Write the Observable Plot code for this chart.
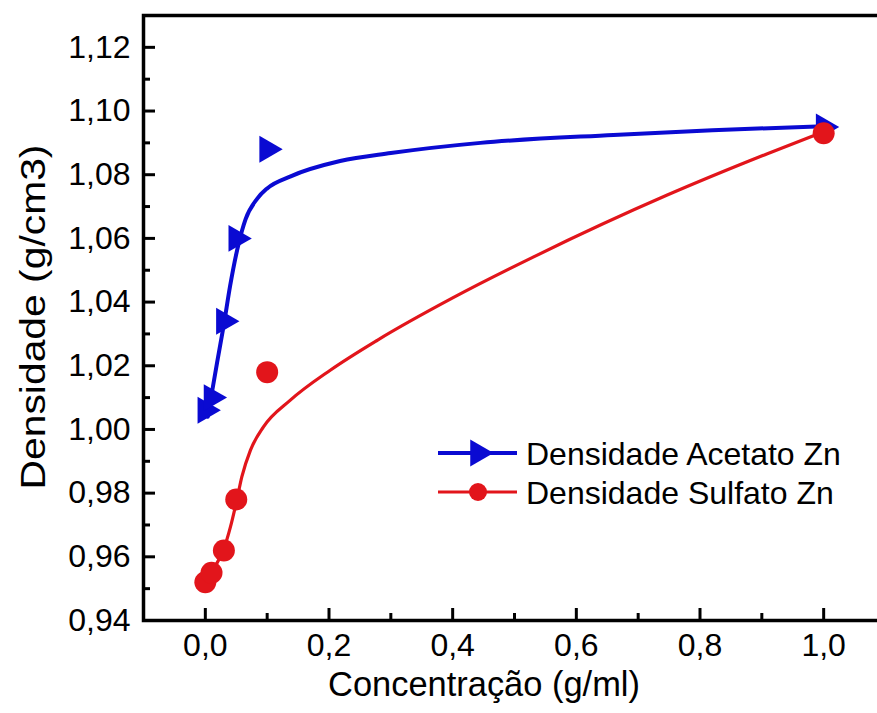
<!DOCTYPE html>
<html>
<head>
<meta charset="utf-8">
<script src="https://cdn.jsdelivr.net/npm/d3@7"></script>
<script src="https://cdn.jsdelivr.net/npm/@observablehq/plot@0.6"></script>
<style>
  html, body { margin: 0; padding: 0; background: #fff; overflow: hidden; }
  #chart { width: 877px; height: 713px; overflow: hidden; }
  #chart svg { max-width: none !important; }
</style>
</head>
<body>
<div id="chart"></div>
<script>
// ---- data ----
const concentracao = [0, 0.01, 0.03, 0.05, 0.1, 1.0];
const densAcetato  = [1.006, 1.010, 1.034, 1.060, 1.088, 1.095];
const densSulfato  = [0.952, 0.955, 0.962, 0.978, 1.018, 1.093];

// fitted curves
const fitAcetatoX = [0.004, 0.011, 0.019, 0.030, 0.040, 0.054, 0.065, 0.084, 0.100, 0.138, 0.218, 0.300, 0.445, 0.660, 0.820, 1.000];
const fitAcetatoY = [1.004, 1.012, 1.021, 1.033, 1.045, 1.0585, 1.066, 1.0725, 1.0757, 1.0795, 1.0843, 1.0868, 1.0900, 1.0925, 1.0940, 1.0952];
const fitSulfatoX = [0.003, 0.010, 0.030, 0.0405, 0.050, 0.059, 0.073, 0.094, 0.1375, 0.202, 0.278, 0.400, 0.531, 0.747, 0.909, 1.000];
const fitSulfatoY = [0.952, 0.955, 0.9625, 0.9693, 0.977, 0.9851, 0.9935, 1.0008, 1.0092, 1.0186, 1.028, 1.0413, 1.0542, 1.0736, 1.0866, 1.0935];

const xMajor = [0, 0.2, 0.4, 0.6, 0.8, 1.0];
const xMinor = [0.1, 0.3, 0.5, 0.7, 0.9];
const yMajor = [0.96, 0.98, 1.00, 1.02, 1.04, 1.06, 1.08, 1.10, 1.12];
const yMinor = [0.95, 0.97, 0.99, 1.01, 1.03, 1.05, 1.07, 1.09, 1.11];
const yLabels = [0.94, 0.96, 0.98, 1.00, 1.02, 1.04, 1.06, 1.08, 1.10, 1.12];

const seriesNames = ["Densidade Acetato Zn", "Densidade Sulfato Zn"];
const xTitle = "Concentração (g/ml)";
const yTitle = "Densidade (g/cm3)";

const blue = "#0a0ad2";
const red = "#e2151b";
const font = "'Liberation Sans', Arial, sans-serif";

const pts = (xs, ys) => xs.map((x, i) => ({x, y: ys[i]}));
const acetatoPts = pts(concentracao, densAcetato);
const sulfatoPts = pts(concentracao, densSulfato);
const acetatoFit = pts(fitAcetatoX, fitAcetatoY);
const sulfatoFit = pts(fitSulfatoX, fitSulfatoY);

const W = 900, H = 713;
const mL = 143, mR = 15, mT = 15, mB = 93;
const plotW = W - mL - mR, plotH = H - mT - mB;
const comma = (d, n) => d.toFixed(n).replace(".", ",");

const chart = Plot.plot({
  width: W, height: H,
  marginLeft: mL, marginRight: mR, marginTop: mT, marginBottom: mB,
  style: {fontFamily: font, background: "#fff", color: "#000", maxWidth: "none"},
  x: {domain: [-0.1, 1.1], axis: null},
  y: {domain: [0.94, 1.13], axis: null},
  marks: [
    // inward ticks
    Plot.ruleX(xMajor, {x: d => d, insetTop: plotH - 12, stroke: "#000", strokeWidth: 3}),
    Plot.ruleX(xMinor, {x: d => d, insetTop: plotH - 7, stroke: "#000", strokeWidth: 3}),
    Plot.ruleY(yMajor, {y: d => d, insetRight: plotW - 12, stroke: "#000", strokeWidth: 3}),
    Plot.ruleY(yMinor, {y: d => d, insetRight: plotW - 7, stroke: "#000", strokeWidth: 3}),
    // tick labels
    Plot.text(xMajor, {x: d => d, frameAnchor: "bottom", dy: 35, text: d => comma(d, 1), fontSize: 32, fill: "#000"}),
    Plot.text(yLabels, {y: d => d, frameAnchor: "left", dx: -13, textAnchor: "end", text: d => comma(d, 2), fontSize: 32, fill: "#000"}),
    // fitted curves
    Plot.line(acetatoFit, {x: "x", y: "y", stroke: blue, strokeWidth: 4, curve: "monotone-x"}),
    Plot.line(sulfatoFit, {x: "x", y: "y", stroke: red, strokeWidth: 3.2, curve: "monotone-x"}),
    // data points
    Plot.dot(acetatoPts, {x: "x", y: "y", symbol: "triangle", rotate: 90, r: 10, fill: blue, stroke: "none"}),
    Plot.dot(sulfatoPts, {x: "x", y: "y", symbol: "circle", r: 11, fill: red, stroke: "none"}),
    Plot.frame({stroke: "#000", strokeWidth: 3.5})
  ]
});
chart.style.maxWidth = "none";
document.getElementById("chart").appendChild(chart);

const svg = d3.select(chart);

// axis titles (condensed like the original)
function title(txt, cx, cy, rot, target) {
  const g = svg.append("g").attr("transform", `translate(${cx},${cy}) rotate(${rot})`);
  const t = g.append("text").attr("text-anchor", "middle").attr("dy", "0.36em")
    .attr("font-family", font).attr("font-size", 35).attr("fill", "#000").text(txt);
  const natural = t.node().getComputedTextLength();
  t.attr("transform", `scale(${target / natural},1)`);
}
title(xTitle, 484, 683, 0, 312);
title(yTitle, 32, 317, -90, 345);

// legend
const leg = svg.append("g").attr("font-family", font).attr("font-size", 32).attr("text-anchor", "start");
const legItems = [
  {name: seriesNames[0], color: blue, sym: "tri", y: 453, w: 4},
  {name: seriesNames[1], color: red, sym: "circ", y: 492, w: 3.2}
];
legItems.forEach(it => {
  leg.append("line").attr("x1", 438).attr("x2", 517).attr("y1", it.y).attr("y2", it.y)
    .attr("stroke", it.color).attr("stroke-width", it.w);
  if (it.sym === "tri") {
    leg.append("path").attr("d", d3.symbol(d3.symbolTriangle, Math.PI * 100)())
      .attr("transform", `translate(478,${it.y}) rotate(90)`).attr("fill", it.color);
  } else {
    leg.append("circle").attr("cx", 478).attr("cy", it.y).attr("r", 9).attr("fill", it.color);
  }
  leg.append("text").attr("x", 526).attr("y", it.y).attr("dy", "0.36em").attr("fill", "#000").text(it.name);
});
</script>
</body>
</html>
